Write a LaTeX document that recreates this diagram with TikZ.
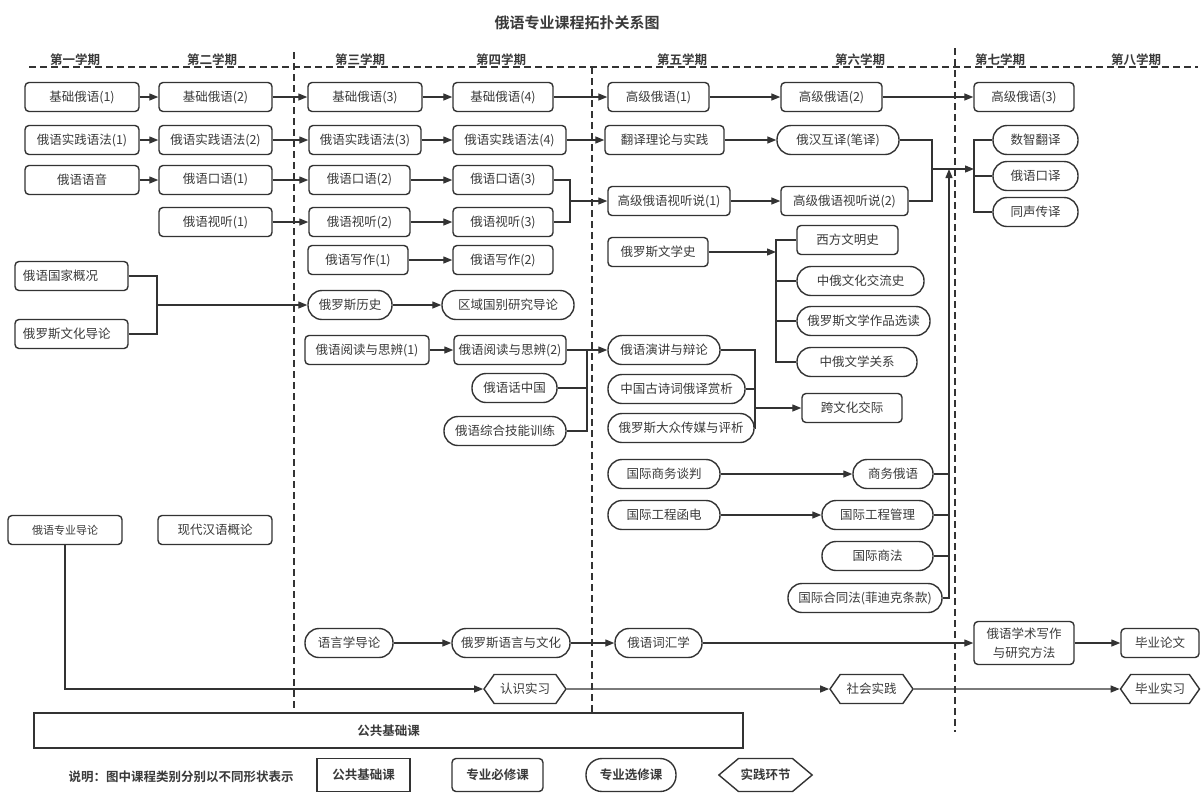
\documentclass[tikz,border=0pt]{standalone}
\usepackage{fontspec}
\setmainfont{Noto Sans CJK SC}[BoldFont={Noto Sans CJK SC Bold}]
\usetikzlibrary{arrows.meta,shapes.symbols}
\definecolor{linec}{HTML}{333333}
\definecolor{textc}{HTML}{3A3A3A}
\newcommand{\cfont}{\fontsize{12.5pt}{15pt}\selectfont}
\newcommand{\sfont}{\fontsize{11pt}{13pt}\selectfont}
\newcommand{\tfont}{\fontsize{15pt}{18pt}\selectfont\bfseries}
\begin{document}
\begin{tikzpicture}[x=1pt,y=-1pt,
    box/.style={draw=linec,line width=1.4pt,fill=white,rounded corners=4pt,text=textc,font=\cfont,minimum height=29pt,inner sep=2pt},
    pill/.style={box,rounded corners=14pt},
    hexa/.style={box,sharp corners,signal,signal to=east and west,signal pointer angle=110},
    wd/.style={minimum width=#1pt},
    sem/.style={font=\cfont\bfseries,text=textc},
    arr/.style={draw=linec,line width=1.3pt,-{Triangle[length=9pt,width=7pt]}},
    ln/.style={draw=linec,line width=1.3pt},
    divider/.style={draw=linec,line width=1.4pt,dash pattern=on 7pt off 4pt}]
    \useasboundingbox (0,0) rectangle (1201,793);
    % title and semesters
    \node[font=\tfont,text=textc] (title) at (577,23) {俄语专业课程拓扑关系图};
    \draw[divider] (29,67) -- (1198,67);
    \draw[divider] (294,52) -- (294,709);
    \draw[divider] (592,67) -- (592,712);
    \draw[divider] (955,48) -- (955,732);
    \foreach \x/\t in {75/第一学期,212/第二学期,360/第三学期,501/第四学期,682/第五学期,860/第六学期,1000/第七学期,1136/第八学期}
        \node[sem,anchor=base] (s\x) at (\x,64) {\t};

    % basic language line
    \node[box,wd=114] (jc1) at (82,97) {基础俄语(1)};
    \node[box,wd=113] (jc2) at (215.5,97) {基础俄语(2)};
    \node[box,wd=114] (jc3) at (365,97) {基础俄语(3)};
    \node[box,wd=100] (jc4) at (503,97) {基础俄语(4)};
    \node[box,wd=101] (gj1) at (658.5,97) {高级俄语(1)};
    \node[box,wd=101] (gj2) at (831.5,97) {高级俄语(2)};
    \node[box,wd=100] (gj3) at (1024,97) {高级俄语(3)};

    \node[box,wd=114] (yf1) at (82,140) {俄语实践语法(1)};
    \node[box,wd=113] (yf2) at (215.5,140) {俄语实践语法(2)};
    \node[box,wd=112] (yf3) at (365,140) {俄语实践语法(3)};
    \node[box,wd=113] (yf4) at (509.5,140) {俄语实践语法(4)};
    \node[box,wd=119] (fyll) at (664.5,140) {翻译理论与实践};
    \node[pill,wd=122] (hhhy) at (838,140) {俄汉互译(笔译)};
    \node[pill,wd=85] (szfy) at (1035.5,140) {数智翻译};
    \node[pill,wd=85] (ykyi) at (1035.5,176) {俄语口译};
    \node[pill,wd=85] (tscy) at (1035.5,212) {同声传译};

    \node[box,wd=114] (yy) at (82,180) {俄语语音};
    \node[box,wd=113] (ky1) at (215.5,180) {俄语口语(1)};
    \node[box,wd=101] (ky2) at (359.5,180) {俄语口语(2)};
    \node[box,wd=100] (ky3) at (503,180) {俄语口语(3)};

    \node[box,wd=113] (st1) at (215.5,222) {俄语视听(1)};
    \node[box,wd=101] (st2) at (359.5,222) {俄语视听(2)};
    \node[box,wd=100] (st3) at (503,222) {俄语视听(3)};
    \node[box,wd=122] (gst1) at (669,201) {高级俄语视听说(1)};
    \node[box,wd=127] (gst2) at (844.5,201) {高级俄语视听说(2)};

    \node[box,wd=100] (xz1) at (358,260) {俄语写作(1)};
    \node[box,wd=100] (xz2) at (503,260) {俄语写作(2)};

    % culture and history
    \node[box,wd=113,text width=97pt,align=left,inner xsep=8pt] (gjgk) at (71.5,276) {俄语国家概况};
    \node[box,wd=113,text width=97pt,align=left,inner xsep=8pt] (whdl) at (71.5,334) {俄罗斯文化导论};
    \node[pill,wd=84] (lsls) at (350,305) {俄罗斯历史};
    \node[pill,wd=132] (qygb) at (508,305) {区域国别研究导论};

    \node[box,wd=124] (yd1) at (367,350) {俄语阅读与思辨(1)};
    \node[box,wd=112] (yd2) at (510,350) {俄语阅读与思辨(2)};
    \node[pill,wd=85] (hzg) at (514.5,388) {俄语话中国};
    \node[pill,wd=122] (zhjn) at (505,431) {俄语综合技能训练};

    \node[box,wd=100] (wxs) at (658,252) {俄罗斯文学史};
    \node[box,wd=101] (xfwm) at (847.5,240) {西方文明史};
    \node[pill,wd=127] (zewh) at (860.5,281) {中俄文化交流史};
    \node[pill,wd=133] (zpxd) at (863.5,321) {俄罗斯文学作品选读};
    \node[pill,wd=120] (zegx) at (857,362) {中俄文学关系};

    \node[pill,wd=112] (yjbl) at (664,350) {俄语演讲与辩论};
    \node[pill,wd=137] (gsc) at (676.5,389) {中国古诗词俄译赏析};
    \node[pill,wd=146] (dzcm) at (681,428) {俄罗斯大众传媒与评析};
    \node[box,wd=100] (kwh) at (852,408) {跨文化交际};

    % business block
    \node[pill,wd=112] (swtp) at (664,474) {国际商务谈判};
    \node[pill,wd=80] (swey) at (893,474) {商务俄语};
    \node[pill,wd=112] (gchd) at (664,515) {国际工程函电};
    \node[pill,wd=111] (gcgl) at (877.5,515) {国际工程管理};
    \node[pill,wd=111] (gjsf) at (877.5,556) {国际商法};
    \node[pill,wd=154] (htf) at (865,598) {国际合同法(菲迪克条款)};

    \node[box,wd=114,font=\sfont] (zydl) at (65,530) {俄语专业导论};
    \node[box,wd=114] (xdhy) at (215,530) {现代汉语概论};

    \node[pill,wd=88] (yyxdl) at (349,643) {语言学导论};
    \node[pill,wd=118] (yywh) at (511,643) {俄罗斯语言与文化};
    \node[pill,wd=87] (chx) at (658.5,643) {俄语词汇学};
    \node[box,wd=100,minimum height=43pt,align=center,font={\fontsize{12.5pt}{19pt}\selectfont}] (xszx) at (1024,643) {俄语学术写作\\与研究方法};
    \node[box,wd=78] (bylw) at (1160,643) {毕业论文};

    \node[hexa,wd=82] (rssx) at (525,689) {认识实习};
    \node[hexa,wd=83] (shsj) at (871.5,689) {社会实践};
    \node[hexa,wd=79] (bysx) at (1160,689) {毕业实习};

    \node[box,sharp corners,wd=709,minimum height=35pt,font=\cfont\bfseries] (ggjc) at (388.5,730.5) {公共基础课};

    % legend
    \node[font=\cfont\bfseries,text=textc] (lg0) at (181,777) {说明：图中课程类别分别以不同形状表示};
    \node[box,sharp corners,wd=93,minimum height=33pt,font=\cfont\bfseries] (lg1) at (363.5,775) {公共基础课};
    \node[box,wd=91,minimum height=33pt,font=\cfont\bfseries] (lg2) at (497.5,775) {专业必修课};
    \node[pill,rounded corners=16pt,wd=90,minimum height=33pt,font=\cfont\bfseries] (lg3) at (631,775) {专业选修课};
    \node[hexa,signal pointer angle=80,wd=93,minimum height=33pt,font=\cfont\bfseries] (lg4) at (765.5,775) {实践环节};

    % straight chains
    \foreach \a/\b in {jc1/jc2,jc2/jc3,jc3/jc4,jc4/gj1,gj1/gj2,gj2/gj3,
        yf1/yf2,yf2/yf3,yf3/yf4,yf4/fyll,fyll/hhhy,
        yy/ky1,ky1/ky2,ky2/ky3,st1/st2,st2/st3,gst1/gst2,xz1/xz2,
        lsls/qygb,yd1/yd2,swtp/swey,gchd/gcgl,
        yyxdl/yywh,yywh/chx,chx/xszx,xszx/bylw,rssx/shsj,shsj/bysx}
        \draw[arr] (\a) -- (\b);

    % junctions
    \coordinate (j1) at (570,201);
    \draw[ln] (ky3.east) -| (j1) |- (st3.east);
    \draw[arr] (j1) -- (gst1.west);

    \coordinate (j2) at (157,305);
    \draw[ln] (gjgk.east) -| (j2) |- (whdl.east);
    \draw[arr] (j2) -- (lsls.west);

    \coordinate (j3) at (587,350);
    \draw[ln] (zhjn.east) -| (j3) -- (yd2.east);
    \draw[ln] (hzg.east) -- (hzg.east -| j3);
    \draw[arr] (j3) -- (yjbl.west);

    \coordinate (b1) at (776,252);
    \draw[arr] (wxs.east) -- (b1);
    \draw[ln] (xfwm.west) -- (xfwm.west -| b1) |- (zegx.west);
    \draw[ln] (zewh.west) -- (zewh.west -| b1);
    \draw[ln] (zpxd.west) -- (zpxd.west -| b1);

    \coordinate (j5) at (755,408);
    \draw[ln] (yjbl.east) -| (j5 |- dzcm.east) -- (dzcm.east);
    \draw[ln] (gsc.east) -- (gsc.east -| j5);
    \draw[arr] (j5) -- (kwh.west);

    \coordinate (j6) at (949,169);
    \draw[arr] (htf.east) -| (j6);
    \foreach \n in {swey,gcgl,gjsf}
        \draw[ln] (\n.east) -- (\n.east -| j6);

    \coordinate (j7) at (932,169);
    \coordinate (b2) at (974,169);
    \draw[ln] (hhhy.east) -| (j7) |- (gst2.east);
    \draw[arr] (j7) -- (b2);
    \draw[ln] (szfy.west) -- (szfy.west -| b2) |- (tscy.west);
    \draw[ln] (ykyi.west) -- (ykyi.west -| b2);

    \draw[arr] (zydl.south) |- (rssx.west);
\end{tikzpicture}
\end{document}
